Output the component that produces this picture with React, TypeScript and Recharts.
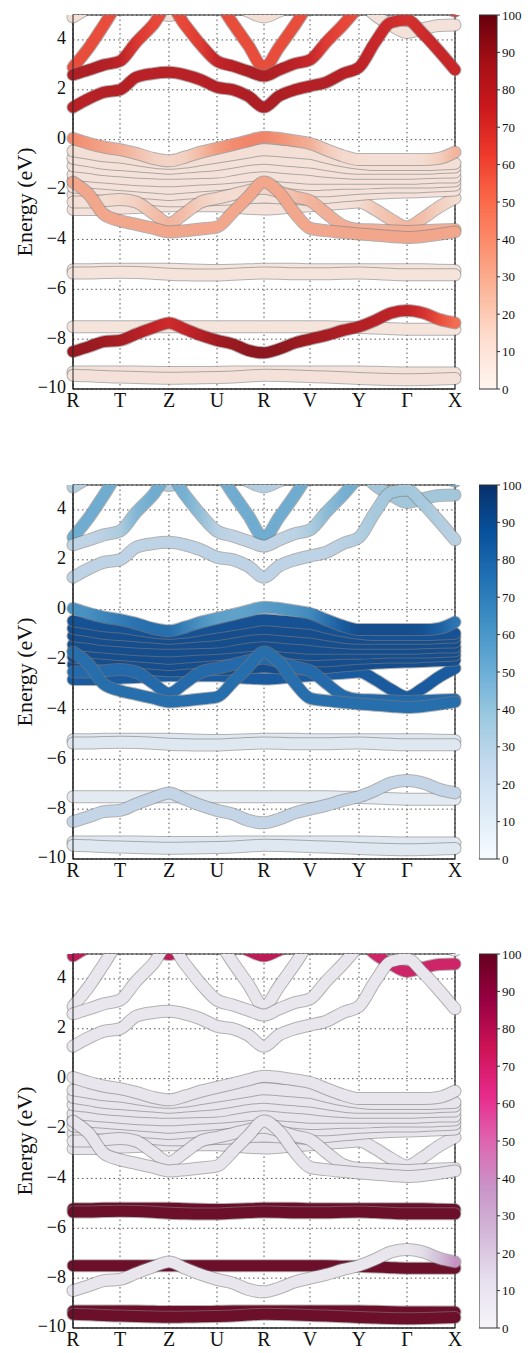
import React from 'react';
import {
  LineChart,
  Line,
  BarChart,
  Bar,
  XAxis,
  YAxis,
  CartesianGrid,
  ReferenceArea,
} from 'recharts';

const FONT = '"Liberation Serif", "DejaVu Serif", "Times New Roman", serif';

// k-path (same spacing as the high-symmetry ticks), 2 extra nodes per segment
const kPath = [0, 16, 31, 47, 63, 80, 96, 112, 128, 144, 160, 175, 191, 206, 222, 237, 253, 270, 286, 302, 318, 334, 350, 366, 382];
const kTicks = [0, 47, 96, 144, 191, 237, 286, 334, 382];
const kLabels = ['R', 'T', 'Z', 'U', 'R', 'V', 'Y', 'Γ', 'X'];
const eTicks = [-10, -8, -6, -4, -2, 0, 2, 4];
const cbTicks = [0, 10, 20, 30, 40, 50, 60, 70, 80, 90, 100];

// band energies (eV) at each kPath node
const bandD4a = [-9.32, -9.32, -9.32, -9.32, -9.32, -9.33, -9.34, -9.34, -9.34, -9.33, -9.32, -9.32, -9.32, -9.32, -9.32, -9.32, -9.32, -9.32, -9.32, -9.33, -9.35, -9.36, -9.36, -9.36, -9.36];
const bandD4b = [-9.45, -9.47, -9.5, -9.52, -9.54, -9.56, -9.57, -9.56, -9.55, -9.54, -9.52, -9.48, -9.45, -9.46, -9.48, -9.5, -9.52, -9.55, -9.58, -9.6, -9.62, -9.63, -9.62, -9.6, -9.58];
const bandD1a = [-5.22, -5.22, -5.2, -5.2, -5.2, -5.2, -5.2, -5.22, -5.24, -5.25, -5.24, -5.22, -5.2, -5.2, -5.2, -5.22, -5.22, -5.22, -5.22, -5.22, -5.22, -5.22, -5.22, -5.24, -5.25];
const bandD1b = [-5.35, -5.35, -5.33, -5.32, -5.33, -5.36, -5.4, -5.42, -5.43, -5.43, -5.4, -5.37, -5.35, -5.36, -5.38, -5.38, -5.38, -5.36, -5.35, -5.37, -5.4, -5.42, -5.42, -5.42, -5.42];
const bandD2 = [-7.5, -7.5, -7.5, -7.5, -7.5, -7.5, -7.5, -7.5, -7.5, -7.5, -7.5, -7.5, -7.5, -7.5, -7.5, -7.5, -7.5, -7.52, -7.53, -7.55, -7.58, -7.6, -7.6, -7.6, -7.6];
const bandD3 = [-8.5, -8.3, -8.1, -8.05, -7.8, -7.55, -7.35, -7.6, -7.85, -8.05, -8.2, -8.45, -8.55, -8.4, -8.15, -8.0, -7.85, -7.65, -7.5, -7.25, -6.95, -6.85, -6.95, -7.2, -7.35];

const bandVB9 = [-2.8, -2.8, -2.78, -2.75, -2.72, -2.68, -2.65, -2.65, -2.65, -2.65, -2.7, -2.75, -2.78, -2.75, -2.7, -2.65, -2.6, -2.55, -2.5, -2.8, -3.2, -3.5, -3.15, -2.7, -2.35];
const bandVB8 = [-2.2, -2.22, -2.25, -2.3, -2.35, -2.4, -2.45, -2.45, -2.42, -2.4, -2.37, -2.33, -2.3, -2.33, -2.36, -2.38, -2.32, -2.25, -2.2, -2.15, -2.12, -2.1, -2.08, -2.05, -2.02];
const bandVB7 = [-1.9, -1.95, -2.0, -2.05, -2.1, -2.15, -2.2, -2.15, -2.1, -2.05, -1.95, -1.85, -1.75, -1.85, -1.95, -2.05, -2.05, -2.0, -1.95, -1.92, -1.9, -1.9, -1.88, -1.85, -1.82];
const bandVB6 = [-1.65, -1.7, -1.75, -1.8, -1.85, -1.9, -1.95, -1.9, -1.85, -1.8, -1.75, -1.7, -1.65, -1.7, -1.75, -1.8, -1.78, -1.75, -1.75, -1.72, -1.7, -1.7, -1.7, -1.68, -1.65];
const bandVB5 = [-1.4, -1.45, -1.5, -1.55, -1.6, -1.63, -1.65, -1.62, -1.58, -1.55, -1.5, -1.45, -1.4, -1.45, -1.5, -1.55, -1.55, -1.55, -1.55, -1.55, -1.55, -1.55, -1.53, -1.5, -1.5];
const bandVB4 = [-1.05, -1.12, -1.2, -1.25, -1.3, -1.33, -1.35, -1.34, -1.32, -1.3, -1.2, -1.1, -1.05, -1.1, -1.15, -1.2, -1.27, -1.32, -1.35, -1.35, -1.35, -1.35, -1.33, -1.31, -1.3];
const bandVB3 = [-0.75, -0.85, -0.95, -1.0, -1.05, -1.1, -1.15, -1.1, -1.05, -1.0, -0.9, -0.8, -0.75, -0.8, -0.85, -0.9, -1.0, -1.1, -1.15, -1.15, -1.15, -1.15, -1.15, -1.12, -1.1];
const bandVB2 = [-0.45, -0.55, -0.65, -0.7, -0.8, -0.9, -0.95, -0.9, -0.8, -0.7, -0.6, -0.5, -0.4, -0.45, -0.5, -0.55, -0.7, -0.85, -0.95, -1.0, -1.0, -1.0, -1.0, -0.98, -0.95];
const bandL2 = [-2.5, -2.5, -2.45, -2.4, -2.5, -2.95, -3.35, -2.95, -2.5, -2.35, -2.2, -2.05, -1.95, -2.1, -2.3, -2.45, -2.95, -3.45, -3.6, -3.62, -3.65, -3.68, -3.65, -3.62, -3.6];
const bandL1 = [-1.7, -2.2, -3.0, -3.25, -3.4, -3.55, -3.7, -3.65, -3.58, -3.5, -2.9, -2.3, -1.7, -2.1, -2.95, -3.55, -3.65, -3.72, -3.78, -3.83, -3.88, -3.92, -3.88, -3.8, -3.7];
const bandVB1 = [0.05, -0.15, -0.3, -0.4, -0.55, -0.75, -0.85, -0.7, -0.5, -0.35, -0.2, -0.05, 0.1, 0.05, -0.05, -0.15, -0.4, -0.65, -0.8, -0.8, -0.8, -0.8, -0.8, -0.75, -0.5];

const bandCB6 = [4.92, 5.3, 5.6, 5.7, 5.5, 5.2, 4.98, 5.2, 5.5, 5.6, 5.4, 5.15, 4.92, 5.15, 5.4, 5.6, 5.8, 5.9, 6.0, 6.0, 6.0, 6.0, 6.0, 6.0, 6.0];
const bandCBG = [6.5, 6.5, 6.5, 6.5, 6.5, 6.5, 6.5, 6.5, 6.5, 6.5, 6.5, 6.5, 6.5, 6.5, 6.5, 6.5, 6.3, 6.0, 5.6, 5.0, 4.6, 4.3, 4.45, 4.58, 4.6];
const bandCB3 = [2.9, 3.7, 4.6, 5.6, 6.2, 6.4, 6.5, 6.4, 6.2, 5.6, 4.65, 3.8, 2.9, 3.7, 4.6, 5.5, 6.2, 6.4, 6.5, 6.5, 6.5, 6.5, 6.5, 6.5, 6.5];
const bandCB2 = [2.6, 2.8, 3.0, 3.15, 3.9, 4.6, 5.4, 4.6, 3.8, 3.15, 2.95, 2.75, 2.55, 2.8, 3.05, 3.2, 3.9, 4.6, 5.3, 5.7, 5.8, 5.9, 5.7, 5.4, 5.15];
const bandCB1 = [1.3, 1.65, 1.9, 2.0, 2.5, 2.65, 2.7, 2.6, 2.4, 2.1, 2.0, 1.75, 1.3, 1.75, 2.0, 2.15, 2.3, 2.65, 2.9, 3.9, 4.7, 4.8, 4.25, 3.55, 2.8];

// drawing order (later on top)
const bands = [
  { key: 'd4a', e: bandD4a }, { key: 'd4b', e: bandD4b },
  { key: 'd1a', e: bandD1a }, { key: 'd1b', e: bandD1b },
  { key: 'd2', e: bandD2 }, { key: 'd3', e: bandD3 },
  { key: 'vb9', e: bandVB9 }, { key: 'vb8', e: bandVB8 }, { key: 'vb7', e: bandVB7 },
  { key: 'vb6', e: bandVB6 }, { key: 'vb5', e: bandVB5 }, { key: 'vb4', e: bandVB4 },
  { key: 'vb3', e: bandVB3 }, { key: 'vb2', e: bandVB2 },
  { key: 'l2', e: bandL2 }, { key: 'l1', e: bandL1 }, { key: 'vb1', e: bandVB1 },
  { key: 'cb6', e: bandCB6 }, { key: 'cbg', e: bandCBG },
  { key: 'cb3', e: bandCB3 }, { key: 'cb2', e: bandCB2 }, { key: 'cb1', e: bandCB1 },
];

// projected weights (%) for each panel
const redWeights: Record<string, number | number[]> = {
  d4a: 6, d4b: 6, d1a: 5, d1b: 5, d2: 5,
  d3: [90, 90, 88, 86, 82, 76, 72, 76, 82, 88, 90, 92, 93, 92, 90, 88, 86, 84, 82, 80, 78, 76, 70, 60, 50],
  vb9: [6, 6, 6, 6, 6, 6, 6, 6, 6, 6, 6, 6, 6, 6, 6, 6, 6, 6, 10, 18, 22, 25, 22, 16, 10],
  vb8: 6, vb7: 6, vb6: 6, vb5: 6, vb4: 6, vb3: 7, vb2: 8,
  l2: [8, 8, 10, 12, 16, 22, 26, 22, 16, 12, 10, 12, 14, 18, 22, 26, 28, 28, 28, 28, 28, 28, 28, 28, 28],
  l1: 31,
  vb1: [40, 36, 32, 28, 22, 16, 14, 16, 24, 34, 40, 42, 42, 38, 32, 28, 18, 12, 10, 8, 8, 8, 10, 16, 26],
  cb6: 8, cbg: 6, cb3: 60,
  cb2: [84, 84, 82, 78, 68, 62, 60, 62, 66, 76, 80, 84, 84, 82, 78, 74, 66, 62, 60, 60, 60, 60, 60, 62, 64],
  cb1: [80, 80, 82, 82, 80, 80, 80, 80, 80, 82, 82, 84, 84, 84, 82, 82, 82, 80, 78, 74, 72, 70, 72, 74, 74],
};

const blueWeights: Record<string, number | number[]> = {
  d4a: 8, d4b: 8, d1a: 8, d1b: 8, d2: 6, d3: 24,
  vb9: 86, vb8: 92, vb7: 92, vb6: 92, vb5: 92, vb4: 92, vb3: 92, vb2: 90,
  l2: 80, l1: 78,
  vb1: [62, 64, 68, 72, 76, 78, 78, 70, 62, 56, 55, 56, 58, 60, 62, 66, 76, 86, 92, 92, 92, 92, 90, 84, 75],
  cb6: 30, cbg: 36, cb3: 50,
  cb2: [25, 25, 28, 32, 45, 50, 50, 48, 40, 28, 25, 25, 25, 25, 27, 32, 42, 48, 50, 50, 50, 50, 50, 50, 50],
  cb1: [26, 26, 26, 26, 26, 26, 26, 26, 26, 26, 26, 26, 26, 26, 26, 26, 26, 28, 30, 34, 36, 36, 34, 30, 28],
};

const pinkWeights: Record<string, number | number[]> = {
  d4a: 100, d4b: 100, d1a: 100, d1b: 100, d2: 100,
  d3: [3, 3, 3, 3, 3, 3, 3, 3, 3, 3, 3, 3, 3, 3, 3, 3, 3, 3, 3, 3, 3, 3, 10, 22, 38],
  vb9: 4, vb8: 4, vb7: 4, vb6: 4, vb5: 4, vb4: 4, vb3: 4, vb2: 4,
  l2: 4, l1: 4, vb1: 4,
  cb6: 78, cbg: 72, cb3: 3, cb2: 3, cb1: 3,
};

// matplotlib colormaps (Reds, Blues, PuRd)
const REDS = ['#fff5f0', '#fee0d2', '#fcbba1', '#fc9272', '#fb6a4a', '#ef3b2c', '#cb181d', '#a50f15', '#67000d'];
const BLUES = ['#f7fbff', '#deebf7', '#c6dbef', '#9ecae1', '#6baed6', '#4292c6', '#2171b5', '#08519c', '#08306b'];
const PURD = ['#f7f4f9', '#e7e1ef', '#d4b9da', '#c994c7', '#df65b0', '#e7298a', '#ce1256', '#980043', '#67001f'];

const PLOT_LEFT = 73;
const PLOT_W = 382;

function hexRgb(h: string) {
  return [1, 3, 5].map((i) => parseInt(h.slice(i, i + 2), 16));
}

function cmap(stops: string[], w: number, grey = 0.1) {
  const t = Math.max(0, Math.min(1, w / 100)) * (stops.length - 1);
  const i = Math.min(stops.length - 2, Math.floor(t));
  const f = t - i;
  const a = hexRgb(stops[i]);
  const b = hexRgb(stops[i + 1]);
  const c = a.map((v, j) => v + (b[j] - v) * f).map((v) => v * (1 - grey) + 150 * grey);
  return `rgb(${c.map((v) => Math.round(v)).join(',')})`;
}

const rows = kPath.map((k, i) => {
  const r: Record<string, number> = { k };
  bands.forEach((b) => { r[b.key] = b.e[i]; });
  return r;
});

const panels = [
  { id: 'red', top: 0, stops: REDS, weights: redWeights },
  { id: 'blue', top: 470, stops: BLUES, weights: blueWeights },
  { id: 'pink', top: 939, stops: PURD, weights: pinkWeights },
];

const fmtE = (v: number) => (v < 0 ? `\u2212${Math.abs(v)}` : `${v}`);

function EnergyLabel(props: any) {
  const vb = props.viewBox || { x: 0, y: 15, width: 73, height: 374 };
  const cx = vb.x + 24;
  const cy = vb.y + vb.height / 2;
  return (
    <text x={cx} y={cy} transform={`rotate(-90 ${cx} ${cy})`} textAnchor="middle"
      dominantBaseline="central" style={{ fontFamily: FONT }} fontSize={22} fill="#111">
      Energy (eV)
    </text>
  );
}

function BandPanel({ panel }: { panel: typeof panels[number] }) {
  const fillFor = (key: string) => {
    const w = panel.weights[key];
    return Array.isArray(w) ? `url(#g-${panel.id}-${key})` : cmap(panel.stops, w);
  };

  return (
    <LineChart width={470} height={424} data={rows} margin={{ top: 15, right: 15, bottom: 5, left: 0 }}
      style={{ fontFamily: FONT }}>
      <defs>
        {bands.filter((b) => Array.isArray(panel.weights[b.key])).map((b) => (
          <linearGradient key={b.key} id={`g-${panel.id}-${b.key}`} gradientUnits="userSpaceOnUse"
            x1={PLOT_LEFT} y1={0} x2={PLOT_LEFT + PLOT_W} y2={0}>
            {kPath.map((k, i) => (
              <stop key={i} offset={k / 382} stopColor={cmap(panel.stops, (panel.weights[b.key] as number[])[i])} />
            ))}
          </linearGradient>
        ))}
      </defs>
      <CartesianGrid strokeDasharray="1.5 3" stroke="#555" />
      <XAxis type="number" dataKey="k" domain={[0, 382]} ticks={kTicks} interval={0}
        tickFormatter={(v: number) => kLabels[kTicks.indexOf(v)]}
        tickLine={false} tickSize={2} tickMargin={2} axisLine={{ stroke: '#222' }}
        tick={{ fontSize: 20, fill: '#111', fontFamily: FONT }} />
      <YAxis type="number" domain={[-10, 5]} allowDataOverflow ticks={eTicks} interval={0} width={73}
        tickFormatter={fmtE} tickLine={false} tickSize={2} tickMargin={5} axisLine={{ stroke: '#222' }}
        tick={{ fontSize: 18, fill: '#111', fontFamily: FONT, dy: -2 }} label={<EnergyLabel />} />
      {bands.flatMap((b) => [
        <Line key={`${b.key}-edge`} dataKey={b.key} type="monotone" stroke="#7d7d7d" strokeOpacity={0.6}
          strokeWidth={13} strokeLinecap="round" strokeLinejoin="round"
          dot={false} activeDot={false} isAnimationActive={false} />,
        <Line key={`${b.key}-fill`} dataKey={b.key} type="monotone" stroke={fillFor(b.key)}
          strokeWidth={11} strokeLinecap="round" strokeLinejoin="round"
          dot={false} activeDot={false} isAnimationActive={false} />,
      ])}
      <ReferenceArea x1={0} x2={382} y1={-10} y2={5} fill="none" stroke="#222" strokeWidth={1.2} />
    </LineChart>
  );
}

const cbarData = [{ c: 100 }];

function ColorBar({ panel }: { panel: typeof panels[number] }) {
  return (
    <BarChart width={49} height={424} data={cbarData} margin={{ top: 15, right: 0, bottom: 35, left: 0 }}
      barCategoryGap={0} style={{ fontFamily: FONT }}>
      <defs>
        <linearGradient id={`cbar-${panel.id}`} x1={0} y1={1} x2={0} y2={0}>
          {panel.stops.map((s, i) => (
            <stop key={i} offset={i / (panel.stops.length - 1)} stopColor={s} />
          ))}
        </linearGradient>
      </defs>
      <XAxis hide />
      <YAxis orientation="right" domain={[0, 100]} ticks={cbTicks} interval={0} width={31}
        axisLine={false} tickLine={{ stroke: '#333' }} tickSize={3} tickMargin={2}
        tick={{ fontSize: 13, fill: '#111', fontFamily: FONT }} />
      <Bar dataKey="c" fill={`url(#cbar-${panel.id})`} stroke="#333" strokeWidth={1} isAnimationActive={false} />
    </BarChart>
  );
}

export default function App() {
  return (
    <div style={{ position: 'absolute', left: 0, top: 0, width: 530, height: 1353, background: '#fff', fontFamily: FONT }}>
      {panels.map((p) => (
        <React.Fragment key={p.id}>
          <div style={{ position: 'absolute', left: 0, top: p.top }}>
            <BandPanel panel={p} />
          </div>
          <div style={{ position: 'absolute', left: 479, top: p.top }}>
            <ColorBar panel={p} />
          </div>
        </React.Fragment>
      ))}
    </div>
  );
}
